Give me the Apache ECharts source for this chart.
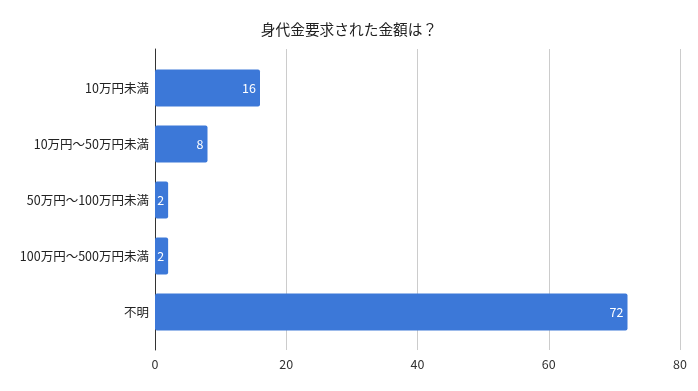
<!DOCTYPE html>
<html><head><meta charset="utf-8">
<script src="https://cdn.jsdelivr.net/npm/echarts@6/dist/echarts.min.js"></script>
<style>html,body{margin:0;padding:0;background:#fff}#c{width:698px;height:391px}</style>
</head><body><div id="c"></div>
<script>
const title = "身代金要求された金額は？";
const categories = ["10万円未満", "10万円～50万円未満", "50万円～100万円未満", "100万円～500万円未満", "不明"];
const values = [16, 8, 2, 2, 72];
const xTicks = [0, 20, 40, 60, 80];

const font = '"Noto Sans CJK JP", "Noto Sans", sans-serif';
const chart = echarts.init(document.getElementById('c'), null, {renderer: 'canvas'});
chart.setOption({
  animation: false,
  textStyle: {fontFamily: font},
  title: {text: title, left: 'center', top: 17, textStyle: {fontFamily: font, fontSize: 14.7, fontWeight: 'normal', color: '#222'}},
  grid: [
    {left: 155, right: 18, top: 49, bottom: 41},
    {left: 155, right: 18, top: 60, bottom: 51}
  ],
  xAxis: [
    {type: 'value', gridIndex: 0, min: xTicks[0], max: xTicks[xTicks.length - 1], interval: 20,
     axisLine: {show: false}, axisTick: {show: false},
     axisLabel: {color: '#333', fontSize: 12.5, margin: 8, fontFamily: font},
     splitLine: {lineStyle: {color: '#cccccc', width: 1}}},
    {type: 'value', gridIndex: 1, min: xTicks[0], max: xTicks[xTicks.length - 1], interval: 20, show: false}
  ],
  yAxis: [
    {type: 'value', gridIndex: 0, min: 0, max: 1, axisLabel: {show: false}, axisTick: {show: false},
     splitLine: {show: false}, axisLine: {show: true, lineStyle: {color: '#333', width: 1}}},
    {type: 'category', gridIndex: 1, data: categories, inverse: true,
     axisLine: {show: false}, axisTick: {show: false},
     axisLabel: {color: '#222', fontSize: 12.5, margin: 6, fontFamily: font}}
  ],
  series: [{
    type: 'bar', xAxisIndex: 1, yAxisIndex: 1, data: values, barWidth: 37,
    itemStyle: {color: '#3c78d8', borderRadius: 2},
    label: {show: true, position: 'insideRight', distance: 4, color: '#fff', fontSize: 12.5, fontFamily: font}
  }]
});
</script></body></html>
